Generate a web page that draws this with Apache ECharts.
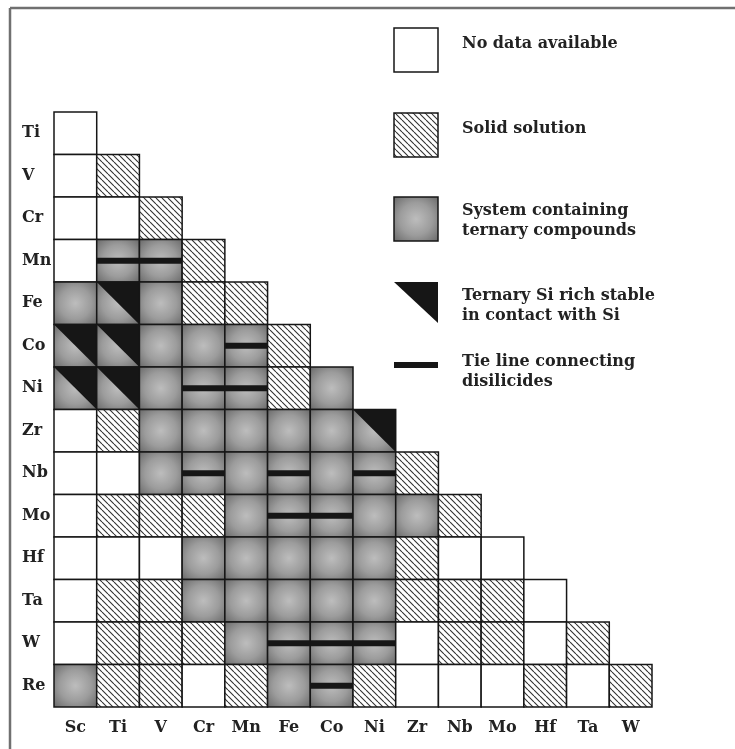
<!DOCTYPE html>
<html>
<head>
<meta charset="utf-8">
<script src="https://cdn.jsdelivr.net/npm/echarts/dist/echarts.min.js"></script>
<style>
  html, body { margin: 0; padding: 0; background: #fff; }
  #chart { width: 735px; height: 749px; }
</style>
</head>
<body>
<div id="chart"></div>
<script>
// Metal pairs of the Si–Me1–Me2 ternary systems
const columns = ['Sc', 'Ti', 'V', 'Cr', 'Mn', 'Fe', 'Co', 'Ni', 'Zr', 'Nb', 'Mo', 'Hf', 'Ta', 'W'];
const rows = ['Ti', 'V', 'Cr', 'Mn', 'Fe', 'Co', 'Ni', 'Zr', 'Nb', 'Mo', 'Hf', 'Ta', 'W', 'Re'];

// One string per row, one letter per column (Sc → ...):
// N = no data, S = solid solution, T = ternary compounds,
// K = ternary Si-rich phase in contact with Si, L = tie line between disilicides
const systemCodes = [
  'N',
  'NS',
  'NNS',
  'NLLS',
  'TKTSS',
  'KKTTLS',
  'KKTLLST',
  'NSTTTTTK',
  'NNTLTLTLS',
  'NSSSTLLTTS',
  'NNNTTTTTSNN',
  'NSSTTTTTSSSN',
  'NSSSTLLLNSSNS',
  'TSSNSTLSNNNSNS'
];

const legendItems = [
  { code: 'N', lines: ['No data available'] },
  { code: 'S', lines: ['Solid solution'] },
  { code: 'T', lines: ['System containing', 'ternary compounds'] },
  { code: 'K', lines: ['Ternary Si rich stable', 'in contact with Si'] },
  { code: 'L', lines: ['Tie line connecting', 'disilicides'] }
];

const cells = [];
systemCodes.forEach((codes, r) => {
  codes.split('').forEach((code, c) => cells.push([c, r, code]));
});

const INK = '#161616';
const LABEL_FONT = { fontFamily: 'DejaVu Serif', fontWeight: 'bold', fontSize: 16, color: '#222' };

function makeHatch() {
  const s = 6;
  const cv = document.createElement('canvas');
  cv.width = s; cv.height = s;
  const g = cv.getContext('2d');
  g.fillStyle = '#fff';
  g.fillRect(0, 0, s, s);
  g.strokeStyle = '#333';
  g.lineWidth = 1.1;
  g.beginPath();
  for (const x0 of [-s, 0, s]) {
    g.moveTo(x0, 0);
    g.lineTo(x0 + s, s);
  }
  g.stroke();
  return { image: cv, repeat: 'repeat' };
}
const hatch = makeHatch();

function ternaryFill() {
  return {
    type: 'radial', x: 0.5, y: 0.5, r: 0.72,
    colorStops: [
      { offset: 0, color: '#bdbdbd' },
      { offset: 0.5, color: '#9c9c9c' },
      { offset: 1, color: '#646464' }
    ]
  };
}

// Shapes for one cell of a given kind, inside the box (x, y, w, h)
function cellShapes(code, x, y, w, h, tieH) {
  const out = [];
  let fill = '#fff';
  if (code === 'S') fill = hatch;
  else if (code !== 'N') fill = ternaryFill();
  out.push({ type: 'rect', shape: { x, y, width: w, height: h },
             style: { fill, stroke: INK, lineWidth: 1.5 } });
  if (code === 'K') {
    out.push({ type: 'polygon', shape: { points: [[x, y], [x + w, y], [x + w, y + h]] },
               style: { fill: INK } });
  }
  if (code === 'L') {
    out.push({ type: 'rect', shape: { x, y: y + h / 2 - tieH / 2, width: w, height: tieH },
               style: { fill: INK } });
  }
  return out;
}

function renderCell(params, api) {
  const c = api.value(0), r = api.value(1);
  const code = cells[params.dataIndex][2];
  const p = api.coord([c, r]);
  const sz = api.size([1, 1]);
  return {
    type: 'group',
    children: cellShapes(code, p[0] - sz[0] / 2, p[1] - sz[1] / 2, sz[0], sz[1], 6)
  };
}

// Legend column on the right
const legendGraphics = [];
const legendX = 394, legendW = 44, legendH = 44, textX = 462;
const legendTops = [28, 113, 197, 282, 0];
const textTops = [45, 130, 212, 297, 363];
legendItems.forEach((item, i) => {
  const top = legendTops[i];
  if (item.code === 'K') {
    legendGraphics.push({ type: 'polygon',
      shape: { points: [[legendX, top], [legendX + legendW, top], [legendX + legendW, top + 41]] },
      style: { fill: INK } });
  } else if (item.code === 'L') {
    legendGraphics.push({ type: 'rect', shape: { x: legendX, y: 362, width: legendW, height: 6 },
      style: { fill: INK } });
  } else {
    legendGraphics.push({ type: 'rect',
      shape: { x: legendX, y: top, width: legendW, height: legendH },
      style: { fill: item.code === 'S' ? hatch : (item.code === 'T' ? ternaryFill() : '#fff'),
               stroke: INK, lineWidth: 1.5 } });
  }
  item.lines.forEach((line, k) => {
    legendGraphics.push({ type: 'text', left: textX, top: textTops[i] + k * 20 - 9,
      style: { text: line, font: 'bold 16px "DejaVu Serif"', fill: '#222' } });
  });
});

// Outer frame (top and left edges)
legendGraphics.push({ type: 'line', shape: { x1: 10, y1: 8, x2: 735, y2: 8 },
  style: { stroke: '#707070', lineWidth: 2.5 } });
legendGraphics.push({ type: 'line', shape: { x1: 10, y1: 8, x2: 10, y2: 749 },
  style: { stroke: '#707070', lineWidth: 2.5 } });

const chart = echarts.init(document.getElementById('chart'), null, { renderer: 'canvas' });
chart.setOption({
  backgroundColor: '#fff',
  animation: false,
  grid: { left: 54, top: 112, width: 598, height: 595 },
  xAxis: {
    type: 'category', data: columns, position: 'bottom',
    axisLine: { show: false }, axisTick: { show: false }, splitLine: { show: false },
    axisLabel: Object.assign({ margin: 13, interval: 0 }, LABEL_FONT)
  },
  yAxis: {
    type: 'category', data: rows, inverse: true,
    axisLine: { show: false }, axisTick: { show: false }, splitLine: { show: false },
    axisLabel: Object.assign({ margin: 32, align: 'left', interval: 0 }, LABEL_FONT)
  },
  series: [{
    type: 'custom',
    renderItem: renderCell,
    data: cells.map(d => [d[0], d[1]]),
    encode: { x: 0, y: 1 },
    clip: false
  }],
  graphic: legendGraphics
});
</script>
</body>
</html>
